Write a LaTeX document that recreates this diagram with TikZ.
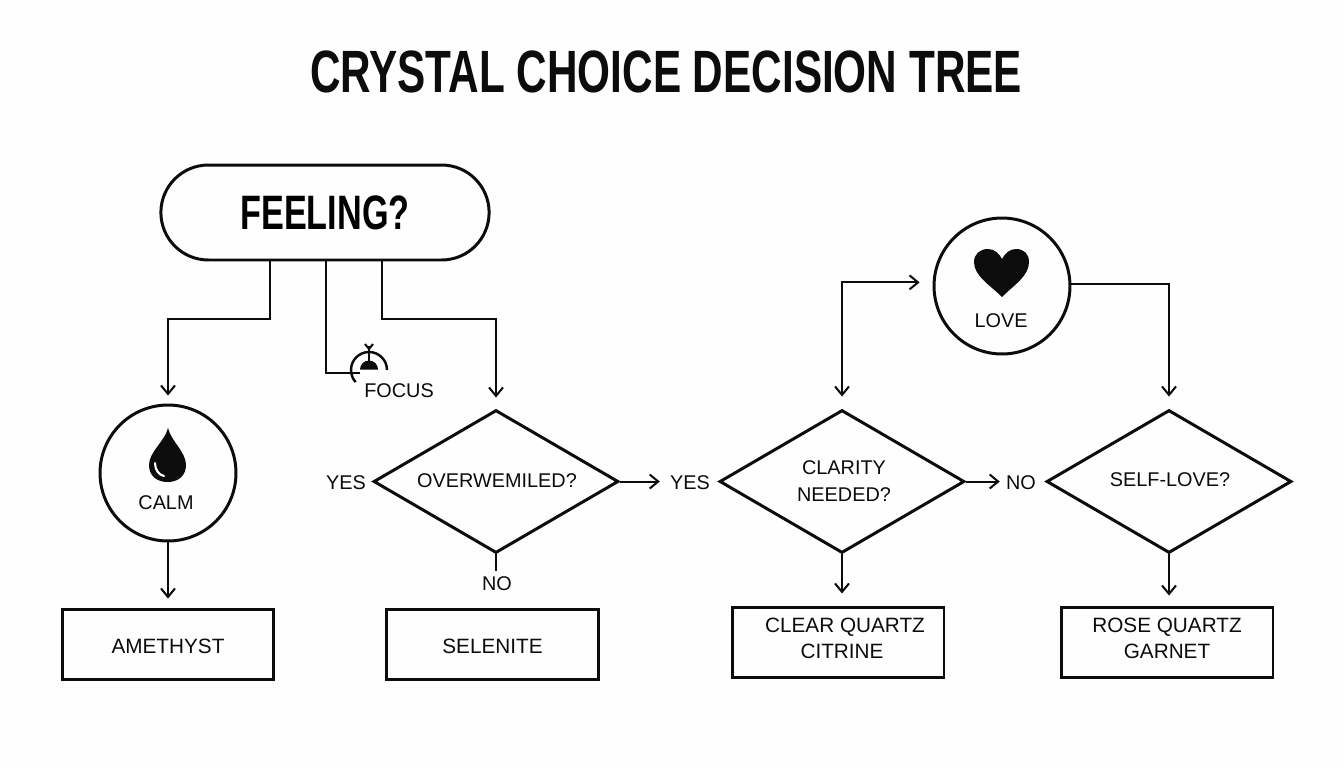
\documentclass[tikz,border=0pt]{standalone}
\usepackage{fontspec}
\setmainfont{Liberation Sans}
\newfontfamily\headfont[FakeStretch=0.708]{Liberation Sans}
\usetikzlibrary{positioning, shapes.geometric, shapes.misc, arrows.meta}
\definecolor{paper}{HTML}{FDFEFD}
\definecolor{ink}{HTML}{0C0C0C}
\tikzset{
outline/.style={draw=ink, line width=1.7pt},
pill/.style={outline, rounded rectangle, minimum width=6.8cm, minimum height=1.9cm},
ring/.style={outline, circle, minimum size=2.72cm, inner sep=0pt},
choice/.style={outline, diamond, minimum width=4.9cm, minimum height=2.86cm, inner sep=0pt},
result/.style={outline, text=ink, minimum width=4.24cm, minimum height=1.4cm, inner sep=0pt, font=\fontsize{11.8}{14.9}\selectfont, align=center},
caption/.style={text=ink, inner sep=0pt, font=\fontsize{11.3}{14.9}\selectfont, align=center},
link/.style={draw=ink, line width=1.15pt},
linkto/.style={link, -{Straight Barb[length=1.7mm, width=2.8mm]}, shorten >=0.22cm},
}

\begin{document}
\begin{tikzpicture}[x=0.02cm, y=-0.02cm]
    \fill[paper] (0,0) rectangle (1344,768);
    \useasboundingbox (0,0) rectangle (1344,768);

    %title
    \node[text=ink, inner sep=0pt, font=\fontsize{34}{40}\headfont\bfseries] (title) at (666,72) {CRYSTAL CHOICE DECISION TREE};

    %start and the two rings
    \node[pill, font=\fontsize{27.5}{32}\headfont\bfseries] (feeling) at (325,212.5) {FEELING?};
    \node[ring] (calm) at (168,473) { };
    \node[ring] (love) at (1002,286) { };

    %diamonds at y=481
    \node[choice] (over) at (496,481.5) { };
    \node[choice] (clarity) at (842,481.5) { };
    \node[choice] (self) at (1169,481.5) { };

    %results
    \node[result, text height=10.7pt, text depth=0pt] (amethyst) at (168,644) {AMETHYST};
    \node[result, text height=10.7pt, text depth=0pt] (selenite) at (492.5,644) {SELENITE};
    \node[result, text depth=4pt] (clear) at (838,642) {\hspace*{0.28cm}CLEAR QUARTZ\\\hspace*{0.16cm}CITRINE};
    \node[result, text depth=4pt] (rose) at (1167,642) {ROSE QUARTZ\\GARNET};

    %texts
    \node[caption] (calmtext) at (166,503) {CALM};
    \node[caption] (lovetext) at (1001,321) {LOVE};
    \node[caption] (focustext) at (399,391) {FOCUS};
    \node[caption] (overtext) at (497,481) {OVERWEMILED?};
    \node[caption] (claritytext) at (844,481) {CLARITY\\NEEDED?};
    \node[caption] (selftext) at (1170,480) {SELF-LOVE?};
    \node[caption] (yesleft) at (346,483) {YES};
    \node[caption] (yesmid) at (690,483) {YES};
    \node[caption] (nomid) at (1021,483) {NO};
    \node[caption] (nolow) at (497,584) {NO};

    %free ends
    \coordinate (leavecalm) at (270,260);
    \coordinate (turncalm) at (168,319);
    \coordinate (turnfocus) at (326,373);
    \coordinate (turnover) at (382,319);
    \coordinate (focusicon) at (360,373);
    \coordinate (nolowtop) at (496,571);

    %lines from the start
    \draw[linkto, shorten >=0.16cm] (leavecalm) |- (turncalm) -- (calm.north);
    \draw[link] (turnfocus |- feeling.south) -- (turnfocus) -- (focusicon);
    \draw[linkto] (turnover |- feeling.south) -- (turnover) -| (over.north);

    %lines across
    \draw[linkto, shorten >=0.2cm] (over.east) -- (over.east -| yesmid.west);
    \draw[linkto, shorten >=0.12cm] (clarity.east) -- (clarity.east -| nomid.west);
    \draw[link, {Straight Barb[length=1.7mm, width=2.8mm]}-{Straight Barb[length=1.7mm, width=2.8mm]}, shorten <=0.24cm, shorten >=0.26cm] (clarity.north) |- (love.177);
    \draw[linkto, shorten >=0.24cm] (love.2) -| (self.north);

    %lines down
    \draw[linkto, shorten >=0.18cm] (calm.south) -- (amethyst.north);
    \draw[link] (over.south) -- (nolowtop);
    \draw[linkto, shorten >=0.24cm] (clarity.south) -- (clarity.south |- clear.north);
    \draw[linkto, shorten >=0.2cm] (self.south) -- (self.south |- rose.north);

    %drop
    \fill[ink] (168,428) .. controls (165,441) and (149,452) .. (149,465) .. controls (149,476) and (157,482) .. (167.5,482) .. controls (178,482) and (186,476) .. (186,465) .. controls (186,452) and (171,441) .. (168,428) -- cycle;
    \draw[white, line width=1.2pt, line cap=round] (155,463) .. controls (155,470) and (159,475) .. (164,476);

    %heart
    \fill[ink] (1002,297) .. controls (990,285) and (974,276) .. (974,262) .. controls (974,254) and (980,249) .. (988,249) .. controls (994,249) and (999,253) .. (1002,259) .. controls (1005,253) and (1010,249) .. (1016,249) .. controls (1024,249) and (1029,254) .. (1029,262) .. controls (1029,276) and (1014,285) .. (1002,297) -- cycle;

    %focus mark
    \draw[link, line width=1.4pt] (387,370) arc (0:-180:18);
    \draw[link, line width=1.4pt] (351,370) arc (180:138:18);
    \draw[link, line width=1.4pt] (369,362) -- (369,346);
    \draw[link] (365,344) -- (369,349) -- (373,344);
    \fill[ink] (360,369.5) arc (180:360:9) -- cycle;
\end{tikzpicture}
\end{document}
